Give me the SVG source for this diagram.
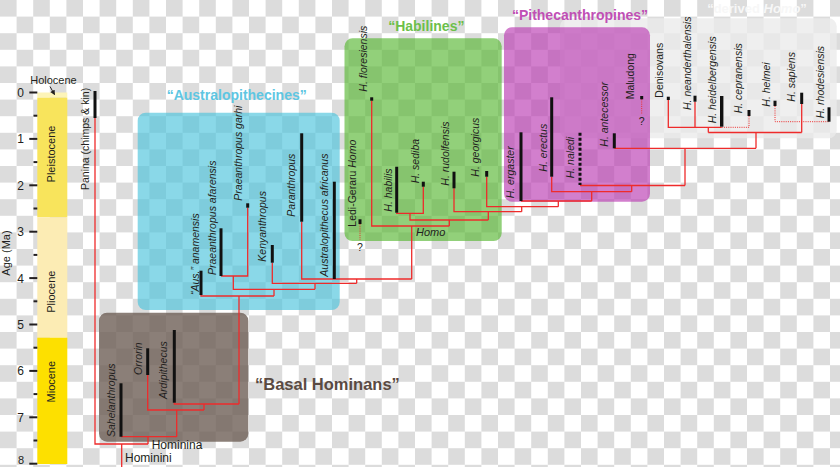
<svg xmlns="http://www.w3.org/2000/svg" width="840" height="467" viewBox="0 0 840 467">
<defs>
<pattern id="chk" width="33.2" height="33.2" patternUnits="userSpaceOnUse">
<rect width="33.2" height="33.2" fill="#ffffff"/>
<rect x="0" y="0" width="16.6" height="16.6" fill="#dcdcdc"/>
<rect x="16.6" y="16.6" width="16.6" height="16.6" fill="#dcdcdc"/>
</pattern>
<marker id="ah" viewBox="0 0 6 6" refX="5" refY="3" markerWidth="5" markerHeight="5" orient="auto">
<path d="M0,0 L6,3 L0,6 z" fill="#231f20"/>
</marker>
</defs>
<style>
text{font-family:"Liberation Sans",Arial,sans-serif;fill:#231f20}
.sp{font-size:10.5px;font-style:italic}
.up{font-size:10.5px}
.ttl{font-weight:bold;font-size:14px}
.num{font-size:12px;text-anchor:end}
.ep{font-size:11px;text-anchor:middle}
.bar{fill:#111111}
.ln{fill:none;stroke:#ee2b2b;stroke-width:1.3}
.dot{fill:none;stroke:#ee2b2b;stroke-width:1;stroke-dasharray:1 1.2}
.tk{stroke:#231f20;stroke-width:2}
</style>
<rect width="840" height="467" fill="url(#chk)"/>

<!-- clade boxes -->
<g id="box-derived"><rect x="560" y="18.3" width="276.7" height="120" rx="8" fill="#ebebeb" fill-opacity="0.8"/>
<text x="757" y="13" class="ttl" text-anchor="middle" style="fill:#f7f7f7;font-size:13px">“derived <tspan font-style="italic">Homo</tspan>”</text></g>
<g id="box-austral"><rect x="137.7" y="112.7" width="202" height="197.3" rx="8" fill="#4bc3dc" fill-opacity="0.65"/>
<text x="236.7" y="100" class="ttl" text-anchor="middle" style="fill:#5ec6e2">“Australopithecines”</text></g>
<g id="box-habilines"><rect x="344.5" y="38.3" width="157.2" height="202.7" rx="8" fill="#58b733" fill-opacity="0.65"/>
<text x="426.3" y="30.5" class="ttl" text-anchor="middle" style="fill:#6cbf4a">“Habilines”</text></g>
<g id="box-pith"><rect x="504" y="27.3" width="146" height="174.4" rx="8" fill="#ba3ab2" fill-opacity="0.65"/>
<text x="580" y="20" class="ttl" text-anchor="middle" style="fill:#c04fb5">“Pithecanthropines”</text></g>
<g id="box-basal"><rect x="99" y="312.7" width="149.3" height="129" rx="8" fill="#6e5f56" fill-opacity="0.8"/>
<text x="255" y="390" class="ttl" style="fill:#5a4a42;font-size:16.5px">“Basal Hominans”</text></g>

<!-- time axis -->
<g id="axis">
<rect x="37.3" y="92.5" width="30" height="5.2" fill="#fdf4b8"/>
<rect x="37.3" y="97.7" width="30" height="119.6" fill="#f8e45c"/>
<rect x="37.3" y="217.3" width="30" height="120.4" fill="#fcecb4"/>
<rect x="37.3" y="337.7" width="30" height="126.3" fill="#fde000"/>
<text class="ep" transform="translate(55,154) rotate(-90)">Pleistocene</text>
<text class="ep" transform="translate(55,291.7) rotate(-90)">Pliocene</text>
<text class="ep" transform="translate(55,381.7) rotate(-90)">Miocene</text>
<text x="53.5" y="84" class="ep">Holocene</text>
<line x1="50" y1="86.5" x2="54.5" y2="94.5" stroke="#231f20" stroke-width="1" marker-end="url(#ah)"/>
<g class="tk">
<line x1="29.3" y1="92.5" x2="37.3" y2="92.5"/><line x1="29.3" y1="138.9" x2="37.3" y2="138.9"/>
<line x1="29.3" y1="185.3" x2="37.3" y2="185.3"/><line x1="29.3" y1="231.7" x2="37.3" y2="231.7"/>
<line x1="29.3" y1="278.1" x2="37.3" y2="278.1"/><line x1="29.3" y1="324.5" x2="37.3" y2="324.5"/>
<line x1="29.3" y1="370.9" x2="37.3" y2="370.9"/><line x1="29.3" y1="417.3" x2="37.3" y2="417.3"/>
<line x1="29.3" y1="463.7" x2="37.3" y2="463.7"/>
<line x1="33.5" y1="115.7" x2="37.3" y2="115.7"/><line x1="33.5" y1="162.1" x2="37.3" y2="162.1"/>
<line x1="33.5" y1="208.5" x2="37.3" y2="208.5"/><line x1="33.5" y1="254.9" x2="37.3" y2="254.9"/>
<line x1="33.5" y1="301.3" x2="37.3" y2="301.3"/><line x1="33.5" y1="347.7" x2="37.3" y2="347.7"/>
<line x1="33.5" y1="394.1" x2="37.3" y2="394.1"/><line x1="33.5" y1="440.5" x2="37.3" y2="440.5"/>
</g>
<text x="24" y="97" class="num">0</text><text x="24" y="143.4" class="num">1</text>
<text x="24" y="189.8" class="num">2</text><text x="24" y="236.2" class="num">3</text>
<text x="24" y="282.6" class="num">4</text><text x="24" y="329" class="num">5</text>
<text x="24" y="375.4" class="num">6</text><text x="24" y="421.8" class="num">7</text>
<text x="24" y="464.3" class="num" style="font-size:11px">8</text>
<text transform="translate(10,253) rotate(-90)" text-anchor="middle" style="font-size:11px">Age (Ma)</text>
</g>

<!-- connectors -->
<g id="connectors">
<path class="ln" d="M95,118 V444 H148 M121.7,444 V467 M121,436.7 H176.7 M148,444 V436.7 M147.7,375 V410 H204 M176.7,436.7 V410 M174.3,402.7 V404 H239 M204,410 V404 M239,404 V296"/>
<path class="ln" d="M201,295 V296 H274 M274,296 V289.3 M221,276 H247.7 V207.7 M233.3,276 V289.3 H315 M315,289.3 V283.3 M272.3,262.7 V283.3 H356.7 M356.7,283.3 V279 M301.7,221.7 V279 H411.7 M411.7,279 V226"/>
<path class="ln" d="M371.7,100.7 V226 H449.3 M449.3,226 V220 M396.7,212.7 V213.3 H423.3 V186.7 M410,213.3 V220 H488.3 M488.3,220 V211.7 M454,188.3 V211.7 H521.7 M521.7,211.7 V206.7 M486.7,176.7 V206.7 H558.3 M558.3,206.7 V201 M521,201 H591.7 M591.7,201 V191.7 M551.7,176.7 V191.7 H631.7 M631.7,191.7 V185.5 M580,185.5 H685 M685,185.5 V148.3 M614.3,148.3 H756 M756,148.3 V132.5"/>
<path class="ln" d="M708.3,132.5 H801.7 M708.3,132.5 V127.3 M668.3,100 V127.3 H721.7 M695,101.7 V127.3 M801.7,104 V132.5"/>
<path class="dot" d="M721.7,127.3 H749 V116 M775,106 V121.7 H829 M641.7,99.3 V113.5 M360,224 V240"/>
</g>

<!-- taxa -->
<g id="panina"><rect class="bar" x="93.5" y="91" width="3" height="27"/>
<text class="up" transform="translate(88.5,190) rotate(-90)">Panina (chimps &amp; kin)</text></g>
<g id="hominini"><text x="125" y="462.3" style="font-size:12px">Hominini</text></g>
<g id="hominina"><text x="151.7" y="448.5" style="font-size:12px">Hominina</text></g>

<g id="sahelanthropus"><rect class="bar" x="119.5" y="383.3" width="3" height="53.4"/>
<text class="sp" transform="translate(114.5,437) rotate(-90)">Sahelanthropus</text></g>
<g id="orrorin"><rect class="bar" x="146.2" y="348.3" width="3" height="26.7"/>
<text class="sp" transform="translate(142,375) rotate(-90)">Orrorin</text></g>
<g id="ardipithecus"><rect class="bar" x="172.8" y="330" width="3" height="72.7"/>
<text class="sp" transform="translate(166.5,399) rotate(-90)">Ardipithecus</text></g>

<g id="anamensis"><rect class="bar" x="199.5" y="270.7" width="3" height="24.3"/>
<text class="sp" transform="translate(198.5,295) rotate(-90)">“Aus.” anamensis</text></g>
<g id="afarensis"><rect class="bar" x="219.5" y="228.3" width="3" height="47.7"/>
<text class="sp" transform="translate(215.5,275) rotate(-90)">Praeanthropus afarensis</text></g>
<g id="garhi"><rect class="bar" x="246.2" y="203.3" width="3" height="4.4"/>
<text class="sp" transform="translate(242,200.7) rotate(-90)">Praeanthropus garhi</text></g>
<g id="kenyanthropus"><rect class="bar" x="270.8" y="245" width="3" height="17.7"/>
<text class="sp" transform="translate(265.5,261.7) rotate(-90)">Kenyanthropus</text></g>
<g id="paranthropus"><rect class="bar" x="300.2" y="133.3" width="3" height="88.4"/>
<text class="sp" transform="translate(295,216.7) rotate(-90)">Paranthropus</text></g>
<g id="africanus"><rect class="bar" x="332.8" y="181.7" width="3" height="97.3"/>
<text class="sp" transform="translate(327.5,276.7) rotate(-90)">Australopithecus africanus</text></g>

<g id="ledi-geraru"><rect class="bar" x="358.5" y="219.3" width="3" height="4.7"/>
<text class="up" transform="translate(356,226.7) rotate(-90)">Ledi-Geraru <tspan font-style="italic">Homo</tspan></text>
<text x="360" y="251" class="up" text-anchor="middle">?</text></g>
<g id="floresiensis"><rect class="bar" x="370.2" y="97.3" width="3" height="3.4"/>
<text class="sp" transform="translate(367,91.7) rotate(-90)">H. floresiensis</text></g>
<g id="habilis"><rect class="bar" x="395.2" y="166.7" width="3" height="46"/>
<text class="sp" transform="translate(392,211.7) rotate(-90)">H. habilis</text></g>
<g id="sediba"><rect class="bar" x="421.8" y="181.7" width="3" height="5"/>
<text class="sp" transform="translate(419,183.3) rotate(-90)">H. sediba</text></g>
<g id="rudolfensis"><rect class="bar" x="452.5" y="171.7" width="3" height="16.6"/>
<text class="sp" transform="translate(449,185.7) rotate(-90)">H. rudolfensis</text></g>
<g id="georgicus"><rect class="bar" x="485.2" y="171" width="3" height="5.7"/>
<text class="sp" transform="translate(478.5,176.7) rotate(-90)">H. georgicus</text></g>
<g id="homo-label"><text x="416" y="236" style="font-size:11px;font-style:italic">Homo</text></g>

<g id="ergaster"><rect class="bar" x="519.5" y="132.3" width="3" height="68.7"/>
<text class="sp" transform="translate(514,198.3) rotate(-90)">H. ergaster</text></g>
<g id="erectus"><rect class="bar" x="550.2" y="97.3" width="3" height="79.4"/>
<text class="sp" transform="translate(546.5,171.7) rotate(-90)">H. erectus</text></g>
<g id="naledi"><line x1="580" y1="132.7" x2="580" y2="185" stroke="#111111" stroke-width="3" stroke-dasharray="3 2"/>
<text class="sp" transform="translate(574,178.3) rotate(-90)">H. naledi</text></g>
<g id="antecessor"><rect class="bar" x="612.8" y="133.3" width="3" height="15"/>
<text class="sp" transform="translate(608,146.7) rotate(-90)">H. antecessor</text></g>
<g id="maludong"><rect class="bar" x="640.2" y="96" width="3" height="3.3"/>
<text class="up" transform="translate(634,99.3) rotate(-90)">Maludong</text>
<text x="641.7" y="125" class="up" text-anchor="middle">?</text></g>

<g id="denisovans"><rect class="bar" x="666.8" y="96.7" width="3" height="3.3"/>
<text class="up" transform="translate(663,97.7) rotate(-90)">Denisovans</text></g>
<g id="neanderthalensis"><rect class="bar" x="693.5" y="95.7" width="3" height="6"/>
<text class="sp" transform="translate(690.5,110) rotate(-90)">H. neanderthalensis</text></g>
<g id="heidelbergensis"><rect class="bar" x="720" y="96" width="3.4" height="30.7"/>
<text class="sp" transform="translate(716,123.3) rotate(-90)">H. heidelbergensis</text></g>
<g id="cepranensis"><rect class="bar" x="747.5" y="110" width="3" height="6"/>
<text class="sp" transform="translate(741.5,113.3) rotate(-90)">H. cepranensis</text></g>
<g id="helmei"><rect class="bar" x="773.5" y="100.7" width="3" height="5.3"/>
<text class="sp" transform="translate(770,106.7) rotate(-90)">H. helmei</text></g>
<g id="sapiens"><rect class="bar" x="800.2" y="92.7" width="3" height="11.3"/>
<text class="sp" transform="translate(795,101.7) rotate(-90)">H. sapiens</text></g>
<g id="rhodesiensis"><rect class="bar" x="827.5" y="107.3" width="3" height="14.4"/>
<text class="sp" transform="translate(824,118.3) rotate(-90)">H. rhodesiensis</text></g>
</svg>
